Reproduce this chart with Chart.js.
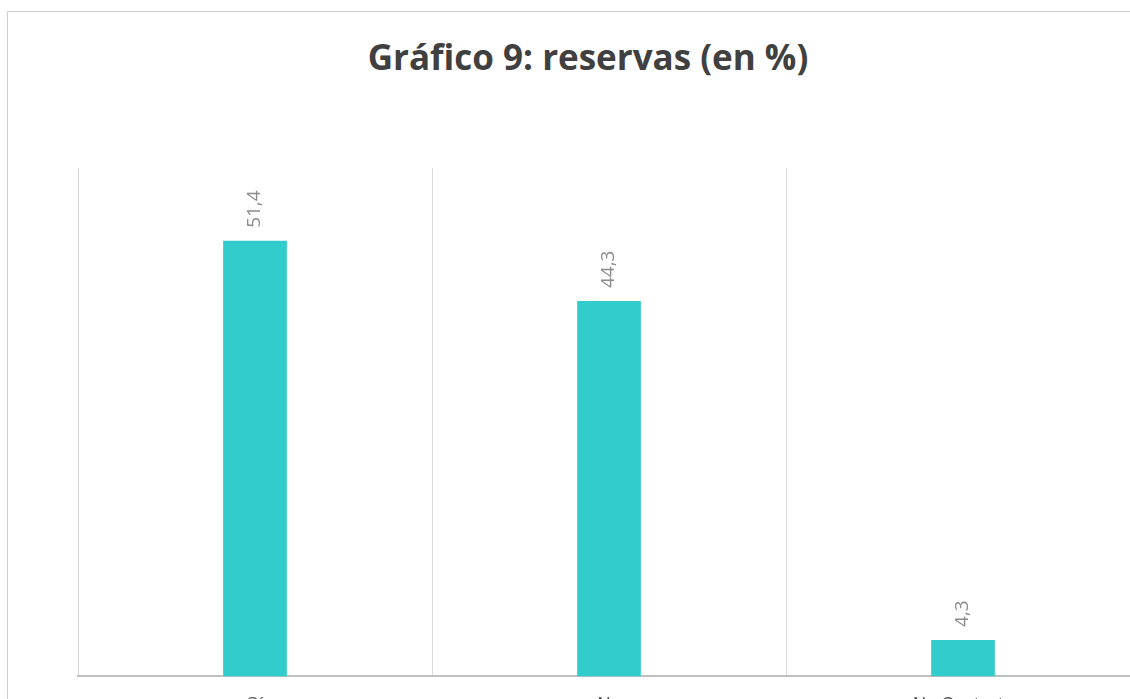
<!DOCTYPE html>
<html lang="es">
<head>
  <meta charset="UTF-8">
  <title>Gráfico 9: reservas (en %)</title>
  <script src="https://cdn.jsdelivr.net/npm/chart.js"></script>
  <style>
    html, body {
      margin: 0;
      padding: 0;
      width: 1130px;
      height: 699px;
      overflow: hidden;
      background: #fff;
      font-family: 'Open Sans', 'Liberation Sans', Arial, sans-serif;
    }
    .frame {
      position: absolute;
      left: 7px;
      top: 11px;
      width: 1300px;
      height: 900px;
      border: 1px solid #d0d0d0;
    }
    .titulo {
      position: absolute;
      left: 0;
      top: 37px;
      width: 1176px;
      text-align: center;
      font-size: 35px;
      line-height: 40px;
      font-weight: bold;
      color: #404040;
    }
    #chart {
      position: absolute;
      left: 0;
      top: 0;
    }
  </style>
</head>
<body>
  <div class="frame"></div>
  <div class="titulo">Gráfico 9: reservas (en %)</div>
  <canvas id="chart" width="1160" height="754"></canvas>

  <script>
    // datos del gráfico
    const categorias = ['Sí', 'No', 'No Contesta'];
    const valores = [51.4, 44.3, 4.3];

    // etiquetas de datos giradas encima de cada barra
    const etiquetasPlugin = {
      id: 'etiquetas',
      afterDatasetsDraw(chart) {
        const ctx = chart.ctx;
        const meta = chart.getDatasetMeta(0);
        ctx.save();
        ctx.fillStyle = '#8c8c8c';
        ctx.font = '19px "Open Sans", "Liberation Sans", sans-serif';
        ctx.textAlign = 'left';
        ctx.textBaseline = 'middle';
        meta.data.forEach((bar, i) => {
          const txt = valores[i].toFixed(1).replace('.', ',');
          ctx.save();
          ctx.translate(bar.x, bar.y - 13);
          ctx.rotate(-Math.PI / 2);
          ctx.fillText(txt, 0, 0);
          ctx.restore();
        });
        ctx.restore();
      }
    };

    new Chart(document.getElementById('chart'), {
      type: 'bar',
      data: {
        labels: categorias,
        datasets: [{
          data: valores,
          backgroundColor: '#33cccc',
          categoryPercentage: 1,
          barPercentage: 0.18
        }]
      },
      options: {
        responsive: false,
        animation: false,
        layout: {
          padding: { left: 78, right: 20, top: 168, bottom: 20 }
        },
        plugins: {
          legend: { display: false },
          tooltip: { enabled: false },
          title: { display: false }
        },
        scales: {
          x: {
            offset: true,
            grid: {
              offset: true,
              color: '#d9d9d9',
              drawTicks: false
            },
            border: { color: '#bfbfbf', width: 2 },
            ticks: {
              color: '#595959',
              padding: 18,
              font: { size: 18 }
            }
          },
          y: {
            display: false,
            min: 0,
            max: 60
          }
        }
      },
      plugins: [etiquetasPlugin]
    });
  </script>
</body>
</html>
